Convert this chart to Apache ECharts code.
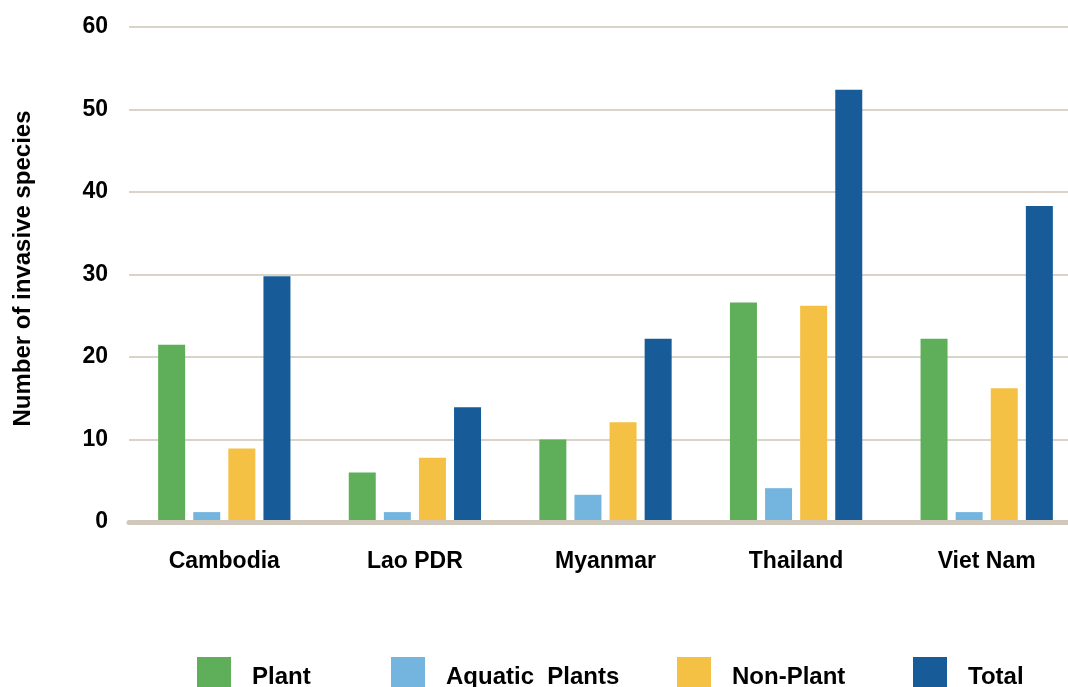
<!DOCTYPE html>
<html>
<head>
<meta charset="utf-8">
<style>
  html, body { margin: 0; padding: 0; background: #ffffff; overflow: hidden; }
  #chart { width: 1090px; height: 687px; }
</style>
<script src="https://cdn.jsdelivr.net/npm/echarts@6/dist/echarts.min.js"></script>
</head>
<body>
<div id="chart"></div>
<script>
const categories = ['Cambodia', 'Lao PDR', 'Myanmar', 'Thailand', 'Viet Nam'];
const plant = [21.5, 6.0, 10.0, 26.6, 22.2];
const aquaticPlants = [1.2, 1.2, 3.3, 4.1, 1.2];
const nonPlant = [8.9, 7.8, 12.1, 26.2, 16.2];
const total = [29.8, 13.9, 22.2, 52.4, 38.3];
const seriesNames = ['Plant', 'Aquatic  Plants', 'Non-Plant', 'Total'];
const yTicks = { min: 0, max: 60, interval: 10 };

const colors = ['#5EAE5A', '#74B5E0', '#F4C145', '#175C98'];
const font = 'Liberation Sans, Arial, sans-serif';
const seriesData = [plant, aquaticPlants, nonPlant, total];
const legendLefts = [192, 386, 672, 908];

const chart = echarts.init(document.getElementById('chart'), null, { renderer: 'canvas' });

const option = {
  animation: false,
  backgroundColor: '#ffffff',
  color: colors,
  grid: { left: 129, width: 953, top: 27, bottom: 165, containLabel: false },
  legend: seriesNames.map((n, i) => ({
    data: [n],
    left: legendLefts[i],
    top: 652,
    itemWidth: 34,
    itemHeight: 34,
    itemGap: 18,
    icon: 'rect',
    formatter: '{t|{name}}',
    textStyle: {
      fontFamily: font, fontWeight: 'bold', fontSize: 24, color: '#000',
      rich: { t: { fontFamily: font, fontWeight: 'bold', fontSize: 24, color: '#000', padding: [7, 0, 0, 16] } }
    }
  })),
  xAxis: {
    type: 'category',
    data: categories,
    z: 5,
    axisLine: { show: true, lineStyle: { color: '#CFC8BB', width: 5 } },
    axisTick: { show: false },
    axisLabel: { margin: 28, fontFamily: font, fontWeight: 'bold', fontSize: 23, color: '#000' }
  },
  yAxis: {
    type: 'value',
    min: yTicks.min,
    max: yTicks.max,
    interval: yTicks.interval,
    name: 'Number of invasive species',
    nameLocation: 'middle',
    nameGap: 94,
    nameTextStyle: { fontFamily: font, fontWeight: 'bold', fontSize: 24, color: '#000', padding: [0, 0, 0, 12] },
    axisLine: { show: false },
    axisTick: { show: false },
    axisLabel: { margin: 21, fontFamily: font, fontWeight: 'bold', fontSize: 23, color: '#000' },
    splitLine: { show: true, lineStyle: { color: '#DAD4C8', width: 2 } }
  },
  series: seriesNames.map((n, i) => ({
    name: n,
    type: 'bar',
    data: seriesData[i],
    barWidth: 27,
    barGap: '30%',
    itemStyle: { color: colors[i] }
  }))
};
chart.setOption(option);
</script>
</body>
</html>
